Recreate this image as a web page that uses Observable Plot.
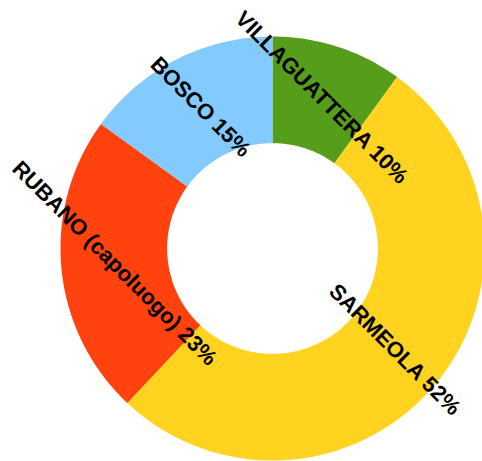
<!DOCTYPE html>
<html>
<head>
<meta charset="utf-8">
<script src="https://cdn.jsdelivr.net/npm/d3@7"></script>
<script src="https://cdn.jsdelivr.net/npm/@observablehq/plot@0.6"></script>
<style>
  html, body { margin: 0; padding: 0; background: #fff; }
  #chart svg { display: block; }
</style>
</head>
<body>
<div id="chart"></div>
<script>
const names = ["VILLAGUATTERA", "SARMEOLA", "RUBANO (capoluogo)", "BOSCO"];
const values = [10, 52, 23, 15];
const colors = ["#579d1c", "#ffd320", "#ff420e", "#83caff"];

const outerR = 1;
const innerR = 0.497;

const pie = d3.pie().sort(null).value((d, i) => values[i]);
const arcs = pie(names);

// polygon outline for each ring slice (geometry only, from data angles)
const ring = [];
arcs.forEach((a, i) => {
  const n = Math.max(2, Math.ceil((a.endAngle - a.startAngle) / (Math.PI / 180)));
  for (let k = 0; k <= n; k++) {
    const t = a.startAngle + (a.endAngle - a.startAngle) * k / n;
    ring.push({name: names[i], x: outerR * Math.sin(t), y: outerR * Math.cos(t)});
  }
  for (let k = n; k >= 0; k--) {
    const t = a.startAngle + (a.endAngle - a.startAngle) * k / n;
    ring.push({name: names[i], x: innerR * Math.sin(t), y: innerR * Math.cos(t)});
  }
});

const midR = (outerR + innerR) / 2;
const labelData = arcs.map((a, i) => {
  const t = (a.startAngle + a.endAngle) / 2;
  return {label: `${names[i]} ${values[i]}%`, x: midR * Math.sin(t), y: midR * Math.cos(t)};
});

const W = 482, H = 461, cx = 272, cy = 248, rPx = 212;

const chart = Plot.plot({
  width: W,
  height: H,
  margin: 0,
  x: {domain: [-cx / rPx, (W - cx) / rPx], range: [0, W], axis: null},
  y: {domain: [-(H - cy) / rPx, cy / rPx], range: [H, 0], axis: null},
  color: {domain: names, range: colors},
  style: {background: "#fff", fontFamily: "'Liberation Sans', Arial, sans-serif"},
  marks: [
    Plot.line(ring, {x: "x", y: "y", z: "name", fill: "name", stroke: "none", curve: "linear-closed"}),
    Plot.text(labelData, {
      x: "x", y: "y", text: "label", rotate: 45,
      fontSize: 22, fontWeight: "bold", fill: "#000",
      textAnchor: "middle", lineAnchor: "middle"
    })
  ]
});
document.getElementById("chart").append(chart);
</script>
</body>
</html>
